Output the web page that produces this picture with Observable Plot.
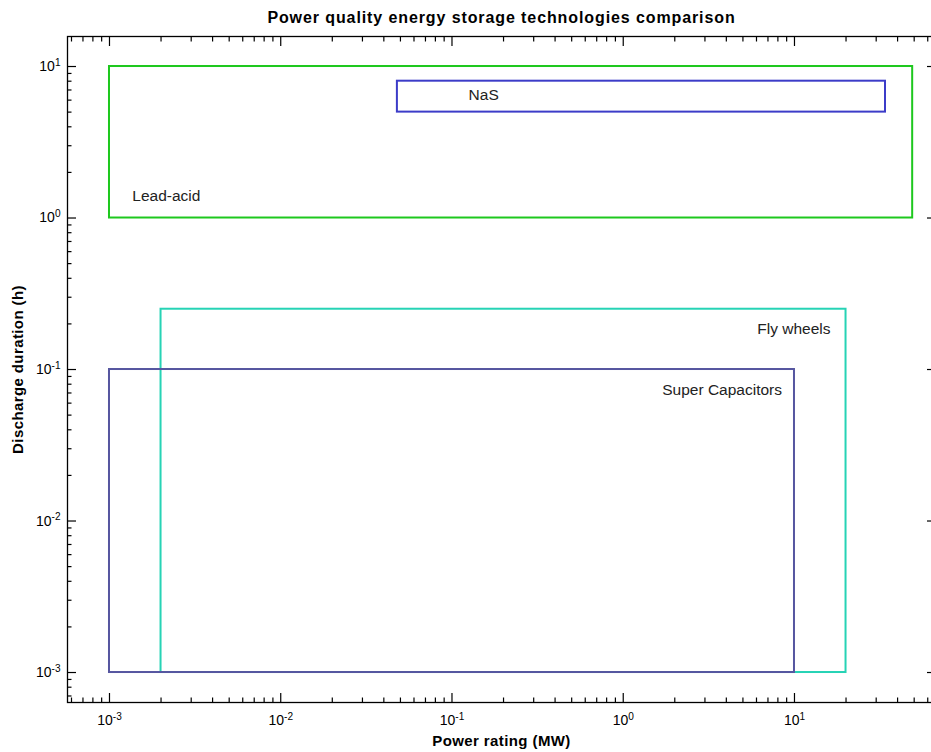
<!DOCTYPE html>
<html><head><meta charset="utf-8">
<script src="https://cdn.jsdelivr.net/npm/d3@7"></script>
<script src="https://cdn.jsdelivr.net/npm/@observablehq/plot@0.6"></script>
<style>html,body{margin:0;padding:0;background:#fff;overflow:hidden;width:931px;height:752px}</style>
</head><body><div id="chart"></div>
<script>
// ---- data ----
const technologies = ["Lead-acid", "NaS", "Fly wheels", "Super Capacitors"];
const powerMin = [0.001, 0.048, 0.002, 0.001];     // MW
const powerMax = [49, 34, 20, 10];                  // MW
const durationMin = [1, 5, 0.001, 0.001];           // h
const durationMax = [10, 8, 0.25, 0.1];             // h
const labelPower = [0.00136, 0.125, 6.06, 1.69];    // label anchor (MW)
const labelDuration = [1.39, 6.44, 0.184, 0.0727];  // label anchor (h)
const techColors = ["#1ec81e", "#3c3cc8", "#26d3b5", "#5656a0"];

const majorTicks = [0.001, 0.01, 0.1, 1, 10];
const majorTickLabels = ["10^-3", "10^-2", "10^-1", "10^0", "10^1"];

const titleText = "Power quality energy storage technologies comparison";
const xLabel = "Power rating (MW)";
const yLabel = "Discharge duration (h)";

// ---- layout ----
const W = 936, H = 752, mL = 67, mR = 1, mT = 36, mB = 50;
const xDomain = [5.686e-4, 66.6];
const yDomain = [6.34e-4, 15.78];

const rects = technologies.map((t, i) => ({
  tech: t, x1: powerMin[i], x2: powerMax[i], y1: durationMin[i], y2: durationMax[i],
  lx: labelPower[i], ly: labelDuration[i], color: techColors[i]
}));

function minorTicks(domain) {
  const out = [];
  for (let d = -5; d <= 2; d++) for (let k = 2; k <= 9; k++) {
    const v = k * Math.pow(10, d);
    if (v > domain[0] && v < domain[1]) out.push(v);
  }
  return out;
}
const xMinor = minorTicks(xDomain), yMinor = minorTicks(yDomain);
const fmt = v => majorTickLabels[majorTicks.indexOf(v)] ?? "";
const blank = () => "";
const font = "'Liberation Sans', Arial, sans-serif";

const chart = Plot.plot({
  width: W, height: H, marginLeft: mL, marginRight: mR, marginTop: mT, marginBottom: mB,
  style: {fontFamily: font, background: "#fff", color: "#000"},
  x: {type: "log", domain: xDomain},
  y: {type: "log", domain: yDomain},
  marks: [
    // tick labels
    Plot.axisX(majorTicks, {anchor: "bottom", tickSize: 0, tickPadding: 13, tickFormat: fmt, fontSize: 14, label: null}),
    Plot.axisY(majorTicks, {anchor: "left", tickSize: 0, tickPadding: 7, tickFormat: fmt, fontSize: 14, label: null}),
    // inward ticks
    Plot.axisX(majorTicks, {anchor: "bottom", tickSize: -9, tickFormat: blank, label: null, strokeWidth: 1.2}),
    Plot.axisX(xMinor, {anchor: "bottom", tickSize: -4.5, tickFormat: blank, label: null, strokeWidth: 1.2}),
    Plot.axisX(majorTicks, {anchor: "top", tickSize: -9, tickFormat: blank, label: null, strokeWidth: 1.2}),
    Plot.axisX(xMinor, {anchor: "top", tickSize: -4.5, tickFormat: blank, label: null, strokeWidth: 1.2}),
    Plot.axisY(majorTicks, {anchor: "left", tickSize: -9, tickFormat: blank, label: null, strokeWidth: 1.2}),
    Plot.axisY(yMinor, {anchor: "left", tickSize: -4.5, tickFormat: blank, label: null, strokeWidth: 1.2}),
    Plot.axisY(majorTicks, {anchor: "right", tickSize: -9, tickFormat: blank, label: null, strokeWidth: 1.2}),
    Plot.axisY(yMinor, {anchor: "right", tickSize: -4.5, tickFormat: blank, label: null, strokeWidth: 1.2}),
    Plot.frame({stroke: "#000", strokeWidth: 1.3}),
    // technology boxes
    Plot.rect(rects, {x1: "x1", x2: "x2", y1: "y1", y2: "y2", fill: "none", stroke: "color", strokeWidth: 2}),
    Plot.text(rects, {x: "lx", y: "ly", text: "tech", textAnchor: "start", fontSize: 15.5, fill: "#222"}),
    // titles
    Plot.text([titleText], {frameAnchor: "top", dy: -19, lineAnchor: "middle", textAnchor: "middle", fontWeight: "bold", fontSize: 16, fill: "#000", style: "letter-spacing:0.9px"}),
    Plot.text([xLabel], {frameAnchor: "bottom", dy: 39, lineAnchor: "middle", textAnchor: "middle", fontWeight: "bold", fontSize: 15, fill: "#000"}),
    Plot.text([yLabel], {frameAnchor: "left", dx: -49, lineAnchor: "middle", textAnchor: "middle", rotate: -90, fontWeight: "bold", fontSize: 15, fill: "#000"})
  ]
});

// render exponents as superscripts
chart.querySelectorAll("text").forEach(t => {
  const m = /^10\^(-?\d+)$/.exec(t.textContent);
  if (m) {
    t.textContent = "10";
    const ts = document.createElementNS("http://www.w3.org/2000/svg", "tspan");
    ts.setAttribute("dy", "-0.5em");
    ts.setAttribute("font-size", "0.72em");
    ts.textContent = m[1];
    t.appendChild(ts);
  }
});
// letter spacing for axis titles
chart.querySelectorAll("text").forEach(t => {
  if (t.textContent === titleText) t.setAttribute("letter-spacing", "0.9");
  if (t.textContent === xLabel || t.textContent === yLabel) t.setAttribute("letter-spacing", "0.4");
});
// crop the SVG to the window (right frame edge lies just outside, as in the reference)
chart.setAttribute("width", 931);
chart.setAttribute("viewBox", `0 0 931 ${H}`);
document.getElementById("chart").appendChild(chart);
</script>
</body></html>
